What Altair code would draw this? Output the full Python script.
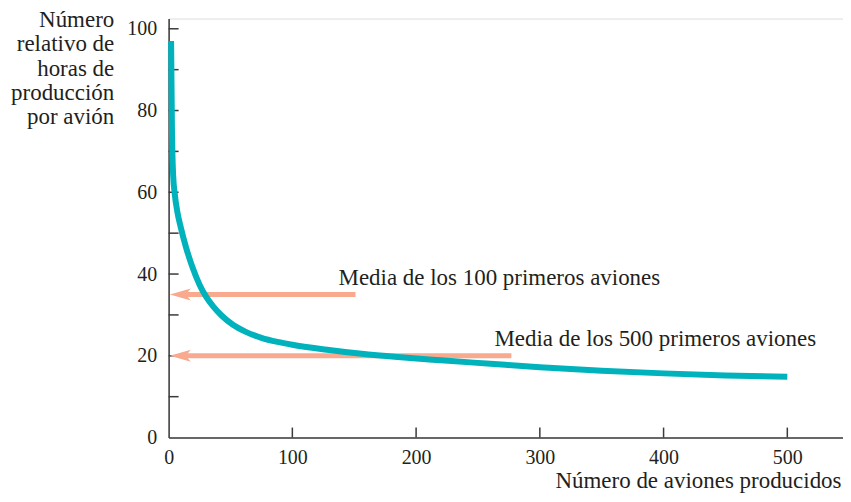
import altair as alt
import pandas as pd

# Learning curve: relative production hours per plane vs. number of planes produced
planes = [2.0, 2.7, 3.7, 5, 7, 10, 14, 19, 25, 30, 36, 43, 52, 62, 75, 88, 100,
          128, 156, 185, 220, 260, 300, 350, 400, 450, 500]
hours = [97, 75.4, 64, 59.5, 55.3, 51.2, 46.6, 41.9, 37.4, 34.6, 32.1, 29.8, 27.6, 25.9, 24.4, 23.4, 22.7,
         21.5, 20.5, 19.7, 18.9, 18.05, 17.2, 16.35, 15.7, 15.2, 14.9]

# Average annotations (arrows pointing to the y axis)
avg_labels = ["Media de los 100 primeros aviones", "Media de los 500 primeros aviones"]
avg_values = [35, 20]
arrow_tip = [1, 1]
arrow_tail = [10, 10]
arrow_end = [151, 277]

# Axis ticks / labels
x_label_values = [0, 100, 200, 300, 400, 500]
x_tick_values = [100, 200, 300, 400, 500]
y_label_values = [0, 20, 40, 60, 80, 100]
y_tick_values = [10, 20, 30, 40, 50, 60, 70, 80, 90, 100]

x_title = "Número de aviones producidos"
y_title = ["Número", "relativo de", "horas de", "producción", "por avión"]

curve_df = pd.DataFrame({"aviones": planes, "horas": hours})
avg_df = pd.DataFrame({
    "label": avg_labels, "valor": avg_values,
    "tip": arrow_tip, "tail": arrow_tail, "end": arrow_end,
})
xtick_df = pd.DataFrame({"t": x_tick_values})
ytick_df = pd.DataFrame({"t": y_tick_values})

FONT = "Liberation Serif"
TEXT = "#231f20"
AXIS = "#3a3a3a"
TEAL = "#00b2bc"
SALMON = "#f9a98e"

xscale = alt.Scale(domain=[0, 545], nice=False, zero=False)
yscale = alt.Scale(domain=[0, 102.5], nice=False, zero=False)

# Inward-pointing ticks, drawn on the axes through the scales
xticks = alt.Chart(xtick_df).mark_tick(
    orient="vertical", size=10, thickness=1.5, color=AXIS, opacity=1, yOffset=-5
).encode(
    x=alt.X("t:Q", scale=xscale, axis=None),
    y=alt.Y(datum=0, scale=yscale, axis=None),
)
yticks = alt.Chart(ytick_df).mark_tick(
    orient="horizontal", size=10, thickness=1.5, color=AXIS, opacity=1, xOffset=5
).encode(
    x=alt.X(datum=0, scale=xscale, axis=None),
    y=alt.Y("t:Q", scale=yscale, axis=None),
)

# Arrow shafts
shafts = alt.Chart(avg_df).mark_rule(color=SALMON, strokeWidth=5, strokeCap="butt").encode(
    x=alt.X("tail:Q", scale=xscale, axis=None),
    x2="end:Q",
    y=alt.Y("valor:Q", scale=yscale, axis=None),
)

# Arrow heads
heads = alt.Chart(avg_df).mark_point(
    shape="M0,0 L2.1,-0.6 L1.6,0 L2.1,0.6 Z", size=400, filled=True, opacity=1,
    color=SALMON, strokeWidth=0,
).encode(
    x=alt.X("tip:Q", scale=xscale, axis=None),
    y=alt.Y("valor:Q", scale=yscale, axis=None),
)

labels = alt.Chart(avg_df).mark_text(
    align="left", baseline="alphabetic", dx=-17, dy=-10,
    font=FONT, fontSize=23, color=TEXT,
).encode(
    x=alt.X("end:Q", scale=xscale, axis=None),
    y=alt.Y("valor:Q", scale=yscale, axis=None),
    text="label:N",
)

curve = alt.Chart(curve_df).mark_line(
    color=TEAL, strokeWidth=6, interpolate="monotone", strokeCap="butt"
).encode(
    x=alt.X("aviones:Q", scale=xscale, axis=alt.Axis(
        orient="bottom", values=x_label_values, ticks=False, tickSize=0, labelPadding=10,
        labelFont=FONT, labelFontSize=20, labelColor=TEXT, labelFlush=False,
        domain=True, domainColor=AXIS, domainWidth=1.5, grid=False,
        title=x_title, titleFont=FONT, titleFontSize=23, titleFontWeight="normal",
        titleColor=TEXT, titleAnchor="end", titleAlign="right", titleBaseline="alphabetic",
        titleX=674, titleY=50)),
    y=alt.Y("horas:Q", scale=yscale, axis=alt.Axis(
        orient="left", values=y_label_values, ticks=False, tickSize=0, labelPadding=12,
        labelFont=FONT, labelFontSize=20, labelColor=TEXT, labelFlush=False,
        domain=True, domainColor=AXIS, domainWidth=1.5, grid=False,
        title=y_title, titleFont=FONT, titleFontSize=23, titleFontWeight="normal",
        titleColor=TEXT, titleAngle=0, titleAlign="right", titleBaseline="alphabetic",
        titleX=-55, titleY=8, titleLineHeight=24.3)),
)

chart = alt.layer(xticks, yticks, shafts, heads, labels, curve).resolve_axis(
    x="independent", y="independent"
).properties(
    width=676, height=420, autosize="none",
    padding={"left": 161, "top": 10, "right": 0, "bottom": 56},
).configure_view(stroke=None).configure(background="white")

chart.save("out.html", embed_options={"renderer": "svg", "actions": False})
